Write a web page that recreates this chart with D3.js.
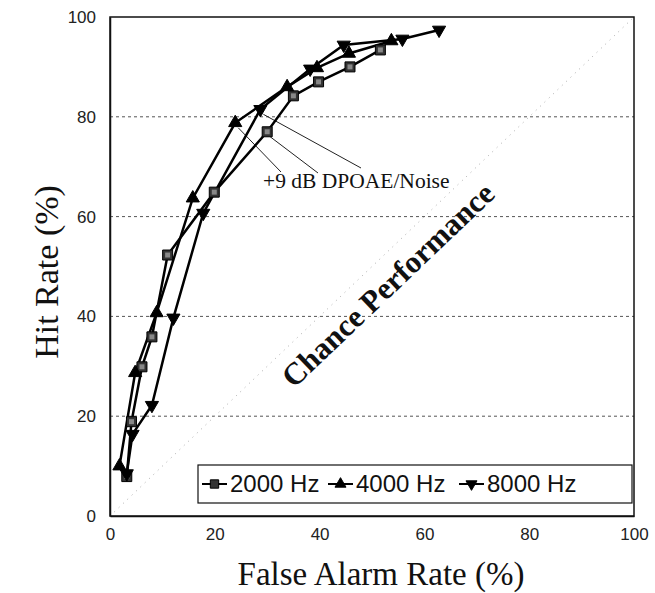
<!DOCTYPE html>
<html>
<head>
<meta charset="utf-8">
<script src="https://cdn.jsdelivr.net/npm/d3@7"></script>
<style>
  body { margin: 0; background: #fff; }
</style>
</head>
<body>
<div id="chart"></div>
<script>
const xTicks = [0, 20, 40, 60, 80, 100];
const yTicks = [0, 20, 40, 60, 80, 100];

const fa2000 = [3.2, 4.1, 6.1, 8.0, 11.0, 19.9, 30.0, 35.0, 39.8, 45.8, 51.6];
const hit2000 = [7.9, 18.9, 29.9, 35.9, 52.3, 64.9, 77.0, 84.2, 87.0, 90.0, 93.4];

const fa4000 = [1.8, 4.8, 8.9, 15.8, 23.9, 33.8, 39.5, 45.6, 53.7];
const hit4000 = [10.0, 28.7, 40.7, 63.7, 78.8, 86.0, 89.8, 92.7, 95.2];

const fa8000 = [3.2, 4.3, 8.0, 12.1, 17.8, 28.7, 38.2, 44.6, 55.8, 62.8];
const hit8000 = [8.5, 16.4, 22.2, 39.7, 60.7, 81.5, 89.6, 94.4, 95.6, 97.4];

const seriesNames = ["2000 Hz", "4000 Hz", "8000 Hz"];
const chanceLine = [[0, 0], [100, 100]];

const width = 655, height = 593;
const margin = { left: 110, right: 21, top: 17, bottom: 77 };

const svg = d3.select("#chart")
  .append("svg")
  .attr("width", width)
  .attr("height", height)
  .style("background", "#fff");

const x = d3.scaleLinear().domain([0, 100]).range([margin.left, width - margin.right]);
const y = d3.scaleLinear().domain([0, 100]).range([height - margin.bottom, margin.top]);

// grid
svg.append("g")
  .selectAll("line")
  .data(yTicks.filter(d => d > 0 && d < 100))
  .join("line")
  .attr("x1", x(0))
  .attr("x2", x(100))
  .attr("y1", d => y(d))
  .attr("y2", d => y(d))
  .attr("stroke", "#555")
  .attr("stroke-width", 1)
  .attr("stroke-dasharray", "3,3");

// chance diagonal
svg.append("path")
  .datum(chanceLine)
  .attr("d", d3.line().x(d => x(d[0])).y(d => y(d[1])))
  .attr("stroke", "#aaa")
  .attr("stroke-width", 1)
  .attr("stroke-dasharray", "1,5")
  .attr("fill", "none");

// frame
svg.append("rect")
  .attr("x", x(0))
  .attr("y", y(100))
  .attr("width", x(100) - x(0))
  .attr("height", y(0) - y(100))
  .attr("fill", "none")
  .attr("stroke", "#111")
  .attr("stroke-width", 1.5);

// axes
const xAxis = svg.append("g")
  .attr("transform", `translate(0,${y(0)})`)
  .call(d3.axisBottom(x).tickValues(xTicks).tickSize(0).tickPadding(12));
const yAxis = svg.append("g")
  .attr("transform", `translate(${x(0)},0)`)
  .call(d3.axisLeft(y).tickValues(yTicks).tickSize(0).tickPadding(14));
[xAxis, yAxis].forEach(a => {
  a.select(".domain").attr("stroke", "#111").attr("stroke-width", 1.5);
  a.selectAll("text")
    .attr("font-family", "Liberation Sans, Arial, sans-serif")
    .attr("font-size", 17)
    .attr("fill", "#222");
});

// axis titles
svg.append("text")
  .attr("x", 381)
  .attr("y", 585)
  .attr("text-anchor", "middle")
  .attr("font-family", "Liberation Serif, Times New Roman, serif")
  .attr("font-size", 33)
  .attr("fill", "#111")
  .text("False Alarm Rate (%)");

svg.append("text")
  .attr("transform", `translate(58,272) rotate(-90)`)
  .attr("text-anchor", "middle")
  .attr("font-family", "Liberation Serif, Times New Roman, serif")
  .attr("font-size", 34)
  .attr("fill", "#111")
  .text("Hit Rate (%)");

// chance label
svg.append("text")
  .attr("transform", `translate(${x(54.4)},${y(44.8)}) rotate(-43.6)`)
  .attr("text-anchor", "middle")
  .attr("font-family", "Liberation Serif, Times New Roman, serif")
  .attr("font-weight", "bold")
  .attr("font-size", 31)
  .attr("fill", "#111")
  .text("Chance Performance");

// annotation leaders
const annX = 263, annY = 188;
const leaders = [
  { fa: fa4000[4], hit: hit4000[4], tx: 281, ty: 172 },
  { fa: fa2000[6], hit: hit2000[6], tx: 318, ty: 173 },
  { fa: fa8000[5], hit: hit8000[5], tx: 361, ty: 168 }
];
svg.append("g")
  .selectAll("line")
  .data(leaders)
  .join("line")
  .attr("x1", d => x(d.fa) + 3)
  .attr("y1", d => y(d.hit) + 5)
  .attr("x2", d => d.tx)
  .attr("y2", d => d.ty)
  .attr("stroke", "#222")
  .attr("stroke-width", 1);

svg.append("text")
  .attr("x", annX)
  .attr("y", annY)
  .attr("font-family", "Liberation Serif, Times New Roman, serif")
  .attr("font-size", 21.5)
  .attr("fill", "#111")
  .text("+9 dB DPOAE/Noise");

// series
const series = [
  { name: seriesNames[0], pts: d3.zip(fa2000, hit2000), sym: d3.symbolSquare, size: 100, fill: "#333", rot: 0 },
  { name: seriesNames[1], pts: d3.zip(fa4000, hit4000), sym: d3.symbolTriangle, size: 75, fill: "#000", rot: 0 },
  { name: seriesNames[2], pts: d3.zip(fa8000, hit8000), sym: d3.symbolTriangle, size: 75, fill: "#000", rot: 180 }
];

const line = d3.line().x(d => x(d[0])).y(d => y(d[1]));

series.forEach(s => {
  svg.append("path")
    .datum(s.pts)
    .attr("d", line)
    .attr("fill", "none")
    .attr("stroke", "#000")
    .attr("stroke-width", 2.5);
});

series.forEach(s => {
  const g = svg.append("g");
  g.selectAll("path")
    .data(s.pts)
    .join("path")
    .attr("d", d3.symbol().type(s.sym).size(s.size))
    .attr("transform", d => `translate(${x(d[0])},${y(d[1])}) rotate(${s.rot})`)
    .attr("fill", s.fill)
    .attr("stroke", "#000")
    .attr("stroke-width", 1);
  if (s.sym === d3.symbolSquare) {
    g.selectAll("rect")
      .data(s.pts)
      .join("rect")
      .attr("x", d => x(d[0]) - 2.5)
      .attr("y", d => y(d[1]) - 2.5)
      .attr("width", 5)
      .attr("height", 5)
      .attr("fill", "#888");
  }
});

// legend
const legend = svg.append("g");
legend.append("rect")
  .attr("x", 198)
  .attr("y", 465)
  .attr("width", 434)
  .attr("height", 38)
  .attr("fill", "#fff")
  .attr("stroke", "#111")
  .attr("stroke-width", 1.2);

const legX = [202, 328, 459];
series.forEach((s, i) => {
  const lx = legX[i];
  legend.append("line")
    .attr("x1", lx).attr("x2", lx + 25)
    .attr("y1", 484).attr("y2", 484)
    .attr("stroke", "#000").attr("stroke-width", 2);
  legend.append("path")
    .attr("d", d3.symbol().type(s.sym).size(s.size * 0.7))
    .attr("transform", `translate(${lx + 12.5},484) rotate(${s.rot})`)
    .attr("fill", s.fill)
    .attr("stroke", "#000");
  legend.append("text")
    .attr("x", lx + 28)
    .attr("y", 492)
    .attr("font-family", "Liberation Sans, Arial, sans-serif")
    .attr("font-size", 24)
    .attr("fill", "#111")
    .text(s.name);
});
</script>
</body>
</html>
